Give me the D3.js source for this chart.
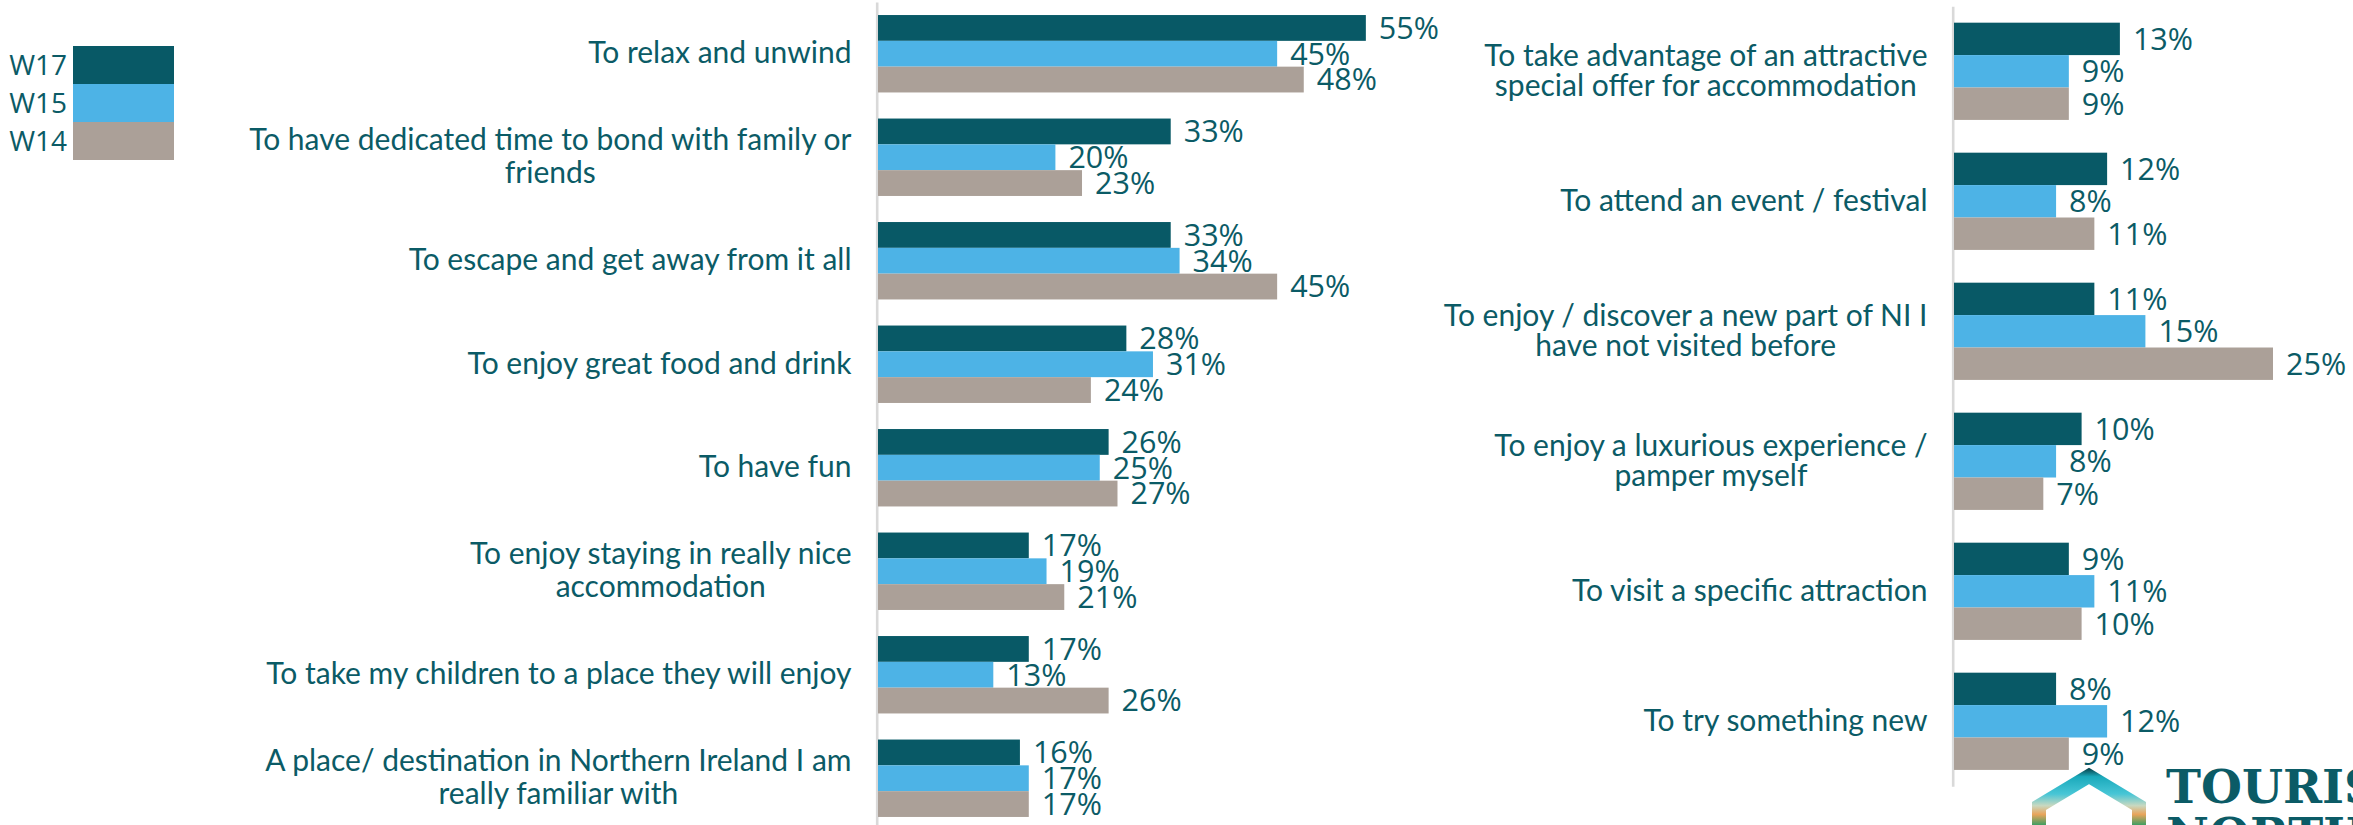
<!DOCTYPE html>
<html>
<head>
<meta charset="utf-8">
<script src="https://cdn.jsdelivr.net/npm/d3@7"></script>
<style>
    body { margin: 0; background: #fff; }
    svg { display: block; }
    .cat { font-family: Lato, "Open Sans", sans-serif; font-size: 30px; fill: #0b5b66; }
    .val { font-family: "Open Sans", sans-serif; font-size: 30.5px; fill: #0b5b66; }
    .leg { font-family: "Open Sans", sans-serif; font-size: 28px; fill: #0b5b66; }
</style>
</head>
<body>
<div class="chart"></div>
<script>
// series + colours
const seriesKeys = ["W17", "W15", "W14"];
const seriesColors = ["#085966", "#4db3e6", "#aba098"];

// left panel
const leftCategories = [
    "To relax and unwind",
    "To have dedicated time to bond with family or\nfriends",
    "To escape and get away from it all",
    "To enjoy great food and drink",
    "To have fun",
    "To enjoy staying in really nice\naccommodation",
    "To take my children to a place they will enjoy",
    "A place/ destination in Northern Ireland I am\nreally familiar with"
];
const leftW17 = [55, 33, 33, 28, 26, 17, 17, 16];
const leftW15 = [45, 20, 34, 31, 25, 19, 13, 17];
const leftW14 = [48, 23, 45, 24, 27, 21, 26, 17];

// right panel
const rightCategories = [
    "To take advantage of an attractive\nspecial offer for accommodation",
    "To attend an event / festival",
    "To enjoy / discover a new part of NI I\nhave not visited before",
    "To enjoy a luxurious experience /\npamper myself",
    "To visit a specific attraction",
    "To try something new"
];
const rightW17 = [13, 12, 11, 10, 9, 8];
const rightW15 = [9, 8, 15, 8, 11, 12];
const rightW14 = [9, 11, 25, 7, 10, 9];

const width = 2353,
    height = 825;

const svg = d3.select(".chart").append("svg")
    .attr("width", width)
    .attr("height", height);

const color = d3.scaleOrdinal().domain(seriesKeys).range(seriesColors);

function drawPanel(cfg) {
    const rows = cfg.categories.map((c, i) => ({
        cat: c,
        values: [cfg.s1[i], cfg.s2[i], cfg.s3[i]]
    }));

    const x = d3.scaleLinear().domain([0, cfg.maxVal]).range([cfg.x0, cfg.x0 + cfg.maxVal * cfg.pxPer]);
    const y = d3.scaleBand().domain(cfg.categories).range(cfg.yRange)
        .paddingInner(0.252).paddingOuter(0.126);
    const ySub = d3.scaleBand().domain(seriesKeys).range([0, y.bandwidth()]);

    const g = svg.append("g");

    // axis line only
    g.append("g")
        .attr("transform", `translate(${cfg.x0 - 1.3},0)`)
        .call(d3.axisLeft(y).tickSize(0).tickSizeOuter(0).tickFormat(""))
        .call(a => a.select(".domain").attr("stroke", "#d9d9d9").attr("stroke-width", 2.6));

    const groups = g.selectAll(".grp")
        .data(rows)
        .join("g")
        .attr("class", "grp")
        .attr("transform", d => `translate(0,${y(d.cat)})`);

    groups.selectAll("rect")
        .data(d => d.values.map((v, i) => ({ key: seriesKeys[i], v })))
        .join("rect")
        .attr("x", x(0))
        .attr("y", d => ySub(d.key))
        .attr("width", d => x(d.v) - x(0))
        .attr("height", ySub.bandwidth())
        .attr("fill", d => color(d.key));

    groups.selectAll(".val")
        .data(d => d.values.map((v, i) => ({ key: seriesKeys[i], v })))
        .join("text")
        .attr("class", "val")
        .attr("x", d => x(d.v) + 13)
        .attr("y", d => ySub(d.key) + ySub.bandwidth() / 2 + 10.8)
        .text(d => d.v + "%");

    // category labels, centred block right-aligned against the axis
    const right = cfg.x0 - 26.5;
    groups.each(function (d) {
        const lines = d.cat.split("\n");
        const t = d3.select(this).append("g");
        const texts = t.selectAll("text")
            .data(lines)
            .join("text")
            .attr("class", "cat")
            .attr("text-anchor", "middle")
            .attr("y", (l, i) => y.bandwidth() / 2 + (i - (lines.length - 1) / 2) * cfg.lineH + 9.5)
            .text(l => l);
        let maxW = 0;
        texts.each(function () { maxW = Math.max(maxW, this.getComputedTextLength()); });
        texts.attr("x", right - maxW / 2);
    });
}

drawPanel({
    categories: leftCategories, s1: leftW17, s2: leftW15, s3: leftW14,
    x0: 878, pxPer: 8.87, maxVal: 60, yRange: [2, 830], lineH: 32.5
});
drawPanel({
    categories: rightCategories, s1: rightW17, s2: rightW15, s3: rightW14,
    x0: 1954, pxPer: 12.76, maxVal: 30, yRange: [6.3, 786.3], lineH: 30.5
});

// legend
const ly = d3.scaleBand().domain(seriesKeys).range([46, 160]);
const legend = svg.append("g");
legend.selectAll("rect")
    .data(seriesKeys)
    .join("rect")
    .attr("x", 73)
    .attr("y", d => ly(d))
    .attr("width", 101)
    .attr("height", ly.bandwidth())
    .attr("fill", d => color(d));
legend.selectAll("text")
    .data(seriesKeys)
    .join("text")
    .attr("class", "leg")
    .attr("x", 67)
    .attr("y", d => ly(d) + ly.bandwidth() / 2 + 10)
    .attr("text-anchor", "end")
    .text(d => d);

// logo (cut off by the page edge)
const defs = svg.append("defs");
const grad = defs.append("linearGradient")
    .attr("id", "hexGrad")
    .attr("gradientUnits", "userSpaceOnUse")
    .attr("x1", 0).attr("y1", 768).attr("x2", 0).attr("y2", 826);
grad.append("stop").attr("offset", "0%").attr("stop-color", "#083c44");
grad.append("stop").attr("offset", "15%").attr("stop-color", "#1aa9bb");
grad.append("stop").attr("offset", "45%").attr("stop-color", "#48c6d6");
grad.append("stop").attr("offset", "65%").attr("stop-color", "#c9d8c0");
grad.append("stop").attr("offset", "80%").attr("stop-color", "#e9a45a");
grad.append("stop").attr("offset", "100%").attr("stop-color", "#2f9e63");

const logo = svg.append("g");
logo.append("path")
    .attr("d", "M2039,880 L2039,806 L2089,776 L2139,806 L2139,880")
    .attr("fill", "none")
    .attr("stroke", "url(#hexGrad)")
    .attr("stroke-width", 14)
    .attr("stroke-linejoin", "miter");
logo.append("text")
    .attr("x", 2166)
    .attr("y", 803)
    .style("font-family", "'DejaVu Serif', serif")
    .style("font-weight", "bold")
    .style("font-size", "47px")
    .style("fill", "#0b5b66")
    .text("TOURISM");
logo.append("text")
    .attr("x", 2166)
    .attr("y", 851)
    .style("font-family", "'DejaVu Serif', serif")
    .style("font-weight", "bold")
    .style("font-size", "47px")
    .style("fill", "#0b5b66")
    .text("NORTHERN");
</script>
</body>
</html>
